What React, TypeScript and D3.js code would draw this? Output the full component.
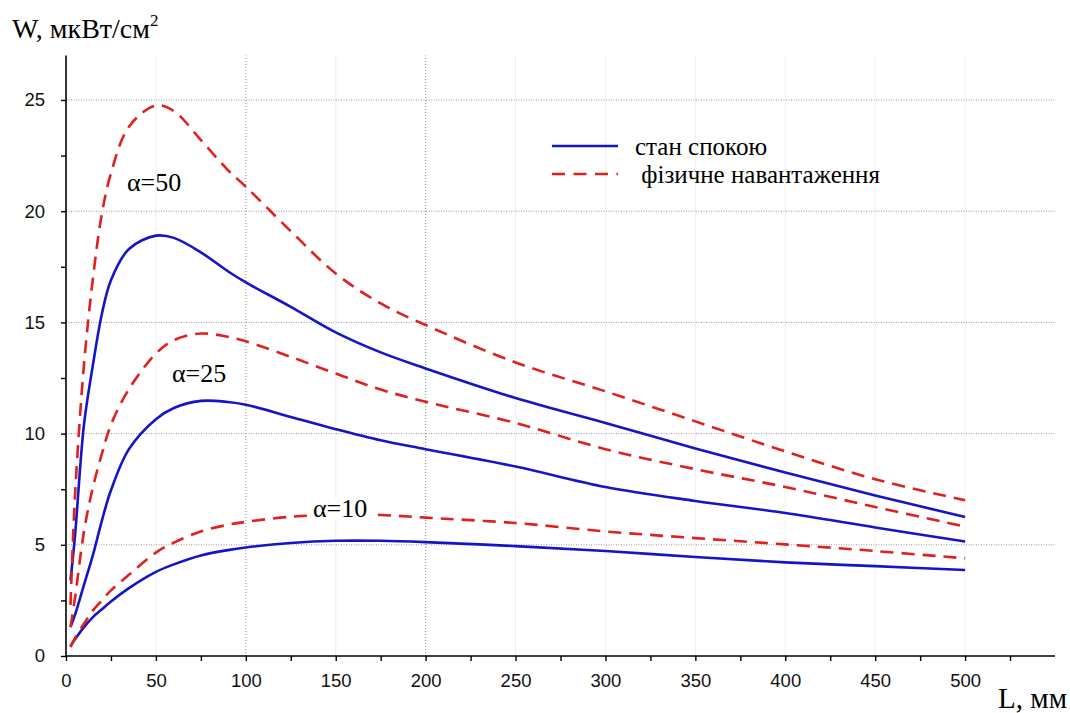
import React, { useEffect, useRef } from "react";
import * as d3 from "d3";

const width = 1070;
const height = 713;

// distance L, mm
const distances = [2.5, 5, 10, 15, 20, 25, 35, 50, 60, 75, 90, 100, 125, 150, 175, 200, 250, 300, 350, 400, 450, 500];

// W, мкВт/см2 — стан спокою (solid blue)
const rest50 = [3.4, 5.4, 10.4, 13.1, 15.4, 16.9, 18.3, 18.9, 18.8, 18.15, 17.3, 16.8, 15.7, 14.55, 13.65, 12.93, 11.6, 10.48, 9.33, 8.25, 7.22, 6.25];
const rest25 = [1.3, 1.85, 3.2, 4.55, 6.1, 7.45, 9.3, 10.65, 11.15, 11.47, 11.42, 11.3, 10.75, 10.2, 9.7, 9.3, 8.52, 7.6, 6.97, 6.43, 5.78, 5.15];
const rest10 = [0.45, 0.75, 1.3, 1.75, 2.1, 2.45, 3.05, 3.78, 4.12, 4.52, 4.76, 4.88, 5.08, 5.18, 5.18, 5.12, 4.94, 4.72, 4.45, 4.21, 4.04, 3.87];

// фізичне навантаження (dashed red)
const load50 = [2.3, 7.2, 13.1, 17.0, 19.9, 21.7, 23.8, 24.75, 24.5, 23.2, 21.85, 21.1, 19.1, 17.2, 15.85, 14.88, 13.2, 11.9, 10.55, 9.2, 7.95, 7.0];
const load25 = [1.3, 2.6, 5.6, 7.6, 9.1, 10.4, 12.0, 13.6, 14.2, 14.5, 14.35, 14.15, 13.45, 12.7, 11.98, 11.43, 10.48, 9.3, 8.4, 7.6, 6.7, 5.82];
const load10 = [0.4, 0.8, 1.45, 2.05, 2.5, 2.95, 3.65, 4.65, 5.1, 5.6, 5.9, 6.03, 6.26, 6.35, 6.34, 6.22, 5.98, 5.6, 5.3, 5.02, 4.72, 4.39];

const xTicks = [0, 50, 100, 150, 200, 250, 300, 350, 400, 450, 500];
const yTicks = [0, 5, 10, 15, 20, 25];
const legendLabels = ["стан спокою", "\u00a0фізичне навантаження"];

const blue = "#1414c8";
const red = "#e0201e";

export default function App() {
  const ref = useRef<SVGSVGElement>(null);

  useEffect(() => {
    const svg = d3.select(ref.current);
    svg.selectAll("*").remove();

    const x = d3.scaleLinear().domain([0, 550]).range([66, 1055]);
    const y = d3.scaleLinear().domain([0, 27]).range([656, 55.5]);

    // faint vertical lines
    svg.append("g")
      .selectAll("line")
      .data(xTicks.filter((t) => t > 0 && t !== 100 && t !== 200))
      .enter()
      .append("line")
      .attr("x1", (d) => x(d)).attr("x2", (d) => x(d))
      .attr("y1", y(0)).attr("y2", y(27))
      .attr("stroke", "#eeeef3")
      .attr("stroke-width", 1);

    // dotted grid
    svg.append("g")
      .selectAll("line")
      .data([100, 200])
      .enter()
      .append("line")
      .attr("x1", (d) => x(d)).attr("x2", (d) => x(d))
      .attr("y1", y(0)).attr("y2", y(27))
      .attr("stroke", "#8a8a8a")
      .attr("stroke-width", 1)
      .attr("stroke-dasharray", "1,2");

    svg.append("g")
      .selectAll("line")
      .data(yTicks.filter((t) => t > 0))
      .enter()
      .append("line")
      .attr("x1", x(0)).attr("x2", x(550))
      .attr("y1", (d) => y(d)).attr("y2", (d) => y(d))
      .attr("stroke", "#9a9a9a")
      .attr("stroke-width", 1)
      .attr("stroke-dasharray", "1,1.5");

    const line = d3.line<number>()
      .x((d, i) => x(distances[i]))
      .y((d) => y(d))
      .curve(d3.curveCatmullRom.alpha(0.5));

    const series = [
      { values: rest50, color: blue, dash: null },
      { values: rest25, color: blue, dash: null },
      { values: rest10, color: blue, dash: null },
      { values: load50, color: red, dash: "13,8" },
      { values: load25, color: red, dash: "13,8" },
      { values: load10, color: red, dash: "13,8" },
    ];

    svg.append("g")
      .selectAll("path")
      .data(series)
      .enter()
      .append("path")
      .attr("d", (s) => line(s.values))
      .attr("fill", "none")
      .attr("stroke", (s) => s.color)
      .attr("stroke-width", 2.6)
      .attr("stroke-dasharray", (s) => s.dash);

    // curve labels
    const serif = "Liberation Serif";
    svg.append("rect")
      .attr("x", 310).attr("y", 498).attr("width", 64).attr("height", 22)
      .attr("fill", "white");
    const alphas = [
      { t: "α=50", x: 127, y: 191 },
      { t: "α=25", x: 172, y: 382 },
      { t: "α=10", x: 313, y: 517 },
    ];
    svg.append("g")
      .selectAll("text")
      .data(alphas)
      .enter()
      .append("text")
      .attr("x", (d) => d.x).attr("y", (d) => d.y)
      .style("font-family", serif)
      .style("font-size", "26px")
      .text((d) => d.t);

    // axes
    const sans = "Liberation Sans";
    const xAxis = svg.append("g").attr("transform", `translate(0,${y(0)})`);
    xAxis.call(
      d3.axisBottom(x)
        .tickValues(d3.range(0, 550, 25))
        .tickSize(5)
        .tickFormat((d) => ((d as number) % 50 === 0 ? String(d) : ""))
    );
    xAxis.select(".domain").attr("stroke", "#000").attr("stroke-width", 1.6).attr("d", `M${x(0)},0H${x(550)}`);
    xAxis.selectAll(".tick line").attr("stroke-width", 1.4);
    xAxis.selectAll(".tick text")
      .style("font-family", sans)
      .style("font-size", "18.5px")
      .attr("fill", "#111")
      .attr("dy", "1.25em");

    const yAxis = svg.append("g").attr("transform", `translate(${x(0)},0)`);
    yAxis.call(
      d3.axisLeft(y)
        .tickValues(d3.range(0, 27, 2.5))
        .tickSize(5)
        .tickFormat((d) => ((d as number) % 5 === 0 ? String(d) : ""))
    );
    yAxis.select(".domain").attr("stroke", "#000").attr("stroke-width", 1.6).attr("d", `M0,${y(0)}V${y(27)}`);
    yAxis.selectAll(".tick line").attr("stroke-width", 1.4);
    yAxis.selectAll(".tick text")
      .style("font-family", sans)
      .style("font-size", "18.5px")
      .attr("fill", "#111")
      .attr("x", -21);

    // axis titles
    const title = svg.append("text")
      .attr("x", 12).attr("y", 38)
      .style("font-family", serif)
      .style("font-size", "28px");
    title.append("tspan").text("W, мкВт/см");
    title.append("tspan").attr("dy", -12).style("font-size", "17px").text("2");

    svg.append("text")
      .attr("x", 1067).attr("y", 708)
      .attr("text-anchor", "end")
      .style("font-family", serif)
      .style("font-size", "29px")
      .text("L, мм");

    // legend
    const legend = svg.append("g");
    legendLabels.forEach((label, i) => {
      const ly = 146 + i * 28;
      legend.append("line")
        .attr("x1", 552).attr("x2", 618)
        .attr("y1", ly).attr("y2", ly)
        .attr("stroke", i === 0 ? blue : red)
        .attr("stroke-width", 2.6)
        .attr("stroke-dasharray", i === 0 ? null : "13,8.5");
      legend.append("text")
        .attr("x", 635).attr("y", ly + 9)
        .style("font-family", serif)
        .style("font-size", "25px")
        .text(label);
    });
  }, []);

  return (
    <svg
      ref={ref}
      width={width}
      height={height}
      style={{ position: "absolute", left: 0, top: 0, background: "#fff" }}
    />
  );
}
